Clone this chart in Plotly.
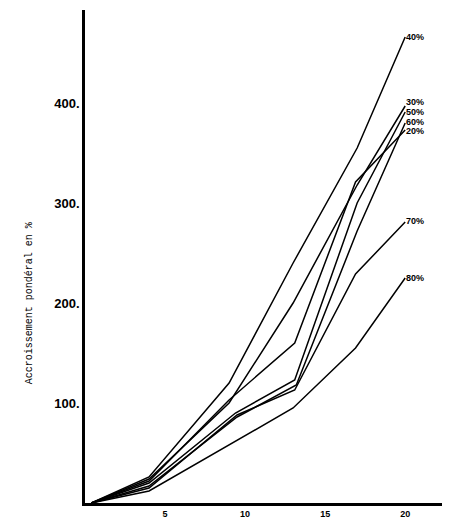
import plotly.graph_objects as go

# weight gain (%) against days, one curve per ration level
LEVELS = ["40%", "30%", "50%", "60%", "20%", "70%", "80%"]

DAYS_40 = [0.4, 4, 9, 13, 17, 20]
GAIN_40 = [0, 26, 120, 240, 355, 466]

DAYS_30 = [0.4, 4, 9, 13, 17, 20]
GAIN_30 = [0, 24, 100, 200, 318, 397]

DAYS_50 = [0.4, 4, 9.4, 13.1, 17, 20]
GAIN_50 = [0, 20, 90, 123, 300, 391]

DAYS_60 = [0.4, 4, 9.5, 13.2, 17, 20]
GAIN_60 = [0, 17, 86, 118, 272, 380]

DAYS_20 = [0.4, 4, 9, 13.1, 16.9, 20]
GAIN_20 = [0, 22, 103, 160, 321, 373]

DAYS_70 = [0.4, 4, 9.5, 13.1, 16.9, 20]
GAIN_70 = [0, 15, 88, 113, 229, 281]

DAYS_80 = [0.4, 4, 13, 16.9, 20]
GAIN_80 = [0, 12, 95, 155, 225]

Y_TICKS = [100, 200, 300, 400]
X_TICKS = [5, 10, 15, 20]

series = [
    (DAYS_40, GAIN_40), (DAYS_30, GAIN_30), (DAYS_50, GAIN_50),
    (DAYS_60, GAIN_60), (DAYS_20, GAIN_20), (DAYS_70, GAIN_70),
    (DAYS_80, GAIN_80),
]

# labels are spread a little apart at the right end
label_y = [466, 401, 391, 381, 372, 282, 225]

fig = go.Figure()
for (days, gain) in series:
    fig.add_trace(go.Scatter(x=days, y=gain, mode="lines",
                             line=dict(color="black", width=1.5),
                             showlegend=False, hoverinfo="skip"))

for name, ly in zip(LEVELS, label_y):
    fig.add_annotation(x=20, y=ly, text="<b>" + name + "</b>", showarrow=False,
                       xanchor="left", yanchor="middle", xshift=-1,
                       font=dict(family="Liberation Sans", size=9, color="black"))

fig.add_annotation(xref="paper", yref="paper", x=-0.173, y=0.406,
                   text="Accroissement pondéral en %", textangle=-90,
                   showarrow=False,
                   font=dict(family="Liberation Mono", size=10, color="black"))

# page body adds ~8px, so the figure is a bit smaller than the window
fig.update_layout(
    width=442, height=521,
    margin=dict(l=77, r=0, t=2, b=26),
    paper_bgcolor="white", plot_bgcolor="white",
    xaxis=dict(range=[0, 22.8], showgrid=False, zeroline=False,
               showline=True, linecolor="black", linewidth=2.5,
               tickvals=X_TICKS, ticktext=["<b>%d</b>" % t for t in X_TICKS],
               ticks="", tickfont=dict(family="Liberation Sans", size=9, color="black")),
    yaxis=dict(range=[0, 493], showgrid=False, zeroline=False,
               showline=True, linecolor="black", linewidth=2.5,
               tickvals=Y_TICKS, ticktext=["<b>%d.</b>" % t for t in Y_TICKS],
               ticks="", ticklabelstandoff=0,
               tickfont=dict(family="Liberation Sans", size=13, color="black")),
)

fig.write_html("out.html")
